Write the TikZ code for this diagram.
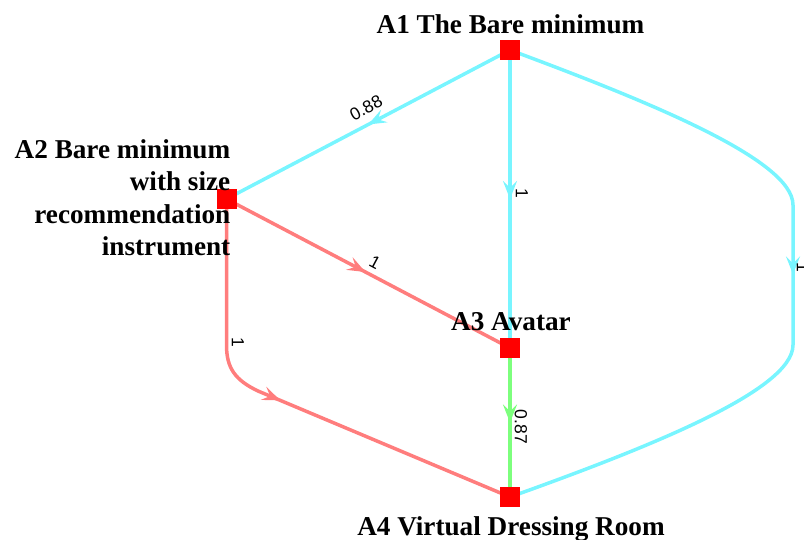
\documentclass[tikz,border=0pt]{standalone}
\usepackage{fontspec}
\setmainfont{Liberation Serif}
\newfontfamily\edgefont{Liberation Sans}
\usetikzlibrary{arrows.meta,decorations.markings,backgrounds}
\definecolor{cyanl}{RGB}{120,245,255}
\definecolor{redl}{RGB}{255,125,125}
\definecolor{greenl}{RGB}{125,255,125}
\tikzset{
  sq/.style={rectangle,fill=red,draw=none,minimum size=20pt,inner sep=0pt},
  nlab/.style={font=\fontsize{27.2}{32.5}\selectfont\bfseries,inner sep=0pt},
  elab/.style={font=\edgefont\fontsize{17.5}{19}\selectfont,inner sep=0pt},
  edge/.style={line width=3.5pt,postaction={decorate},
    decoration={markings,mark=at position #1 with {\arrow{Stealth[length=18pt,width=14pt,inset=7pt]}}}},
  edge/.default=0.5
}
\begin{document}
\begin{tikzpicture}[x=1pt,y=-1pt]
\useasboundingbox (0,0) rectangle (804,539);
\node[sq] (a1) at (510,50) {};
\node[sq] (a2) at (226.5,199) {};
\node[sq] (a3) at (510,348) {};
\node[sq] (a4) at (510,497) {};
\node[nlab,anchor=base] (l1) at (510.5,33) {A1 The Bare minimum};
\node[nlab,anchor=north east,align=right] (l2) at (230.5,139) {A2 Bare minimum\\with size\\recommendation\\instrument};
\node[nlab,anchor=base] (l3) at (511,330) {A3 Avatar};
\node[nlab,anchor=base] (l4) at (511,535) {A4 Virtual Dressing Room};
\begin{scope}[on background layer]
\draw[edge,cyanl] (a1.center) -- (a2.center);
\draw[edge,cyanl] (a1.center) -- (a3.center);
\draw[edge,cyanl] (a1.center) .. controls (650,102) and (793,160) .. (793,205) -- (793,345) .. controls (793,390) and (650,447) .. (a4.center);
\draw[edge=0.49,redl] (a2.center) -- (a3.center);
\draw[edge=0.48,redl] (a2.center) -- (226.5,345) .. controls (226.5,368) and (235,380) .. (258,391) -- (a4.center);
\draw[edge,greenl] (a3.center) -- (a4.center);
\end{scope}
\node[elab,rotate=28] (t12) at (366,108) {0.88};
\node[elab,rotate=-90] (t13) at (522,193) {1};
\node[elab,rotate=-90] (t14) at (803,267) {1};
\node[elab,rotate=-28] (t23) at (375,262) {1};
\node[elab,rotate=-90] (t24) at (238,342) {1};
\node[elab,rotate=-90] (t34) at (521,427) {0.87};
\end{tikzpicture}
\end{document}
